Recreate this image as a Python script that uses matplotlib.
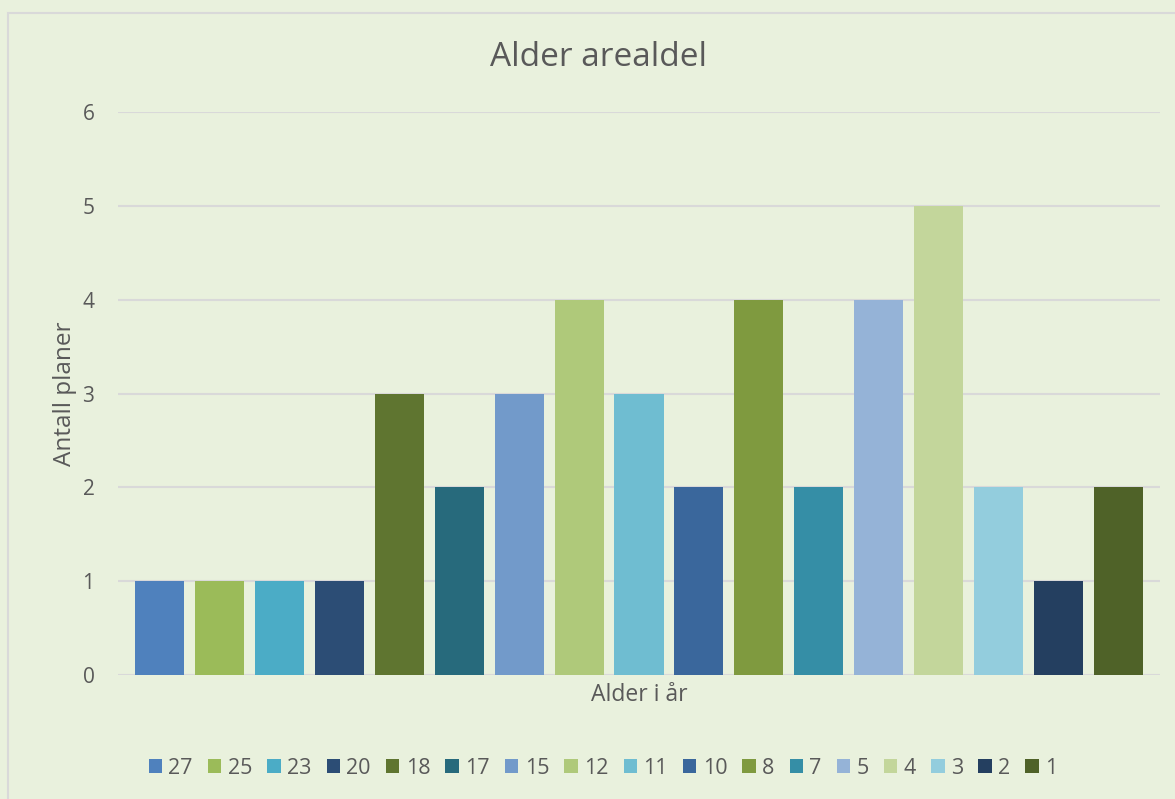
import matplotlib
matplotlib.use('Agg')
import matplotlib.pyplot as plt
from matplotlib.patches import Rectangle

# series (age in years) and number of plans
ages = ['27', '25', '23', '20', '18', '17', '15', '12', '11', '10', '8', '7', '5', '4', '3', '2', '1']
counts = [1, 1, 1, 1, 3, 2, 3, 4, 3, 2, 4, 2, 4, 5, 2, 1, 2]
colors = ['#4F81BD', '#9BBB59', '#4BACC6', '#2C4D75', '#5F7530', '#276A7C',
          '#729ACA', '#AFC97A', '#6FBDD1', '#3A679C', '#7F9A3F', '#358EA6',
          '#95B3D7', '#C3D69B', '#93CDDD', '#243F60', '#4F6228']

bg = '#E9F1DD'
text_col = '#595959'
plt.rcParams['font.family'] = ['Open Sans', 'DejaVu Sans']

fig = plt.figure(figsize=(11.75, 7.99), dpi=100, facecolor=bg)
ax = fig.add_axes([118 / 1175, 1 - 675 / 799, 1042 / 1175, 563 / 799])
ax.set_facecolor(bg)

for i, (age, n, c) in enumerate(zip(ages, counts, colors)):
    ax.bar(i, n, width=0.82, color=c, label=age, zorder=3)

ax.set_xlim(-0.70, len(ages) - 1 + 0.70)
ax.set_ylim(0, 6)
ax.set_yticks(range(0, 7))
ax.set_xticks([])
ax.grid(axis='y', color='#D9D9D9', linewidth=1.5, zorder=0)
for s in ax.spines.values():
    s.set_visible(False)
ax.tick_params(axis='y', length=0, labelsize=15, labelcolor=text_col, pad=17)

ax.set_ylabel('Antall planer', fontsize=17.5, color=text_col, labelpad=4)
ax.set_xlabel('Alder i år', fontsize=16.5, color=text_col, labelpad=6)
fig.text(599 / 1175, 1 - 57 / 799, 'Alder arealdel', fontsize=24, color=text_col,
         ha='center', va='center')

ax.legend(loc='center', bbox_to_anchor=(603 / 1175, 1 - 768 / 799), ncol=len(ages),
          bbox_transform=fig.transFigure,
          frameon=False, fontsize=15.5, labelcolor=text_col, handlelength=0.62,
          handleheight=0.62, handletextpad=0.3, columnspacing=0.7)

# chart border (right and bottom edges lie outside the image)
fig.patches.append(Rectangle((8 / 1175, -0.1), 1.2, 1.1 - 13 / 799,
                             transform=fig.transFigure, fill=False,
                             edgecolor='#D9D9D9', linewidth=1.5))

fig.savefig('out.png', dpi=100, facecolor=bg)
